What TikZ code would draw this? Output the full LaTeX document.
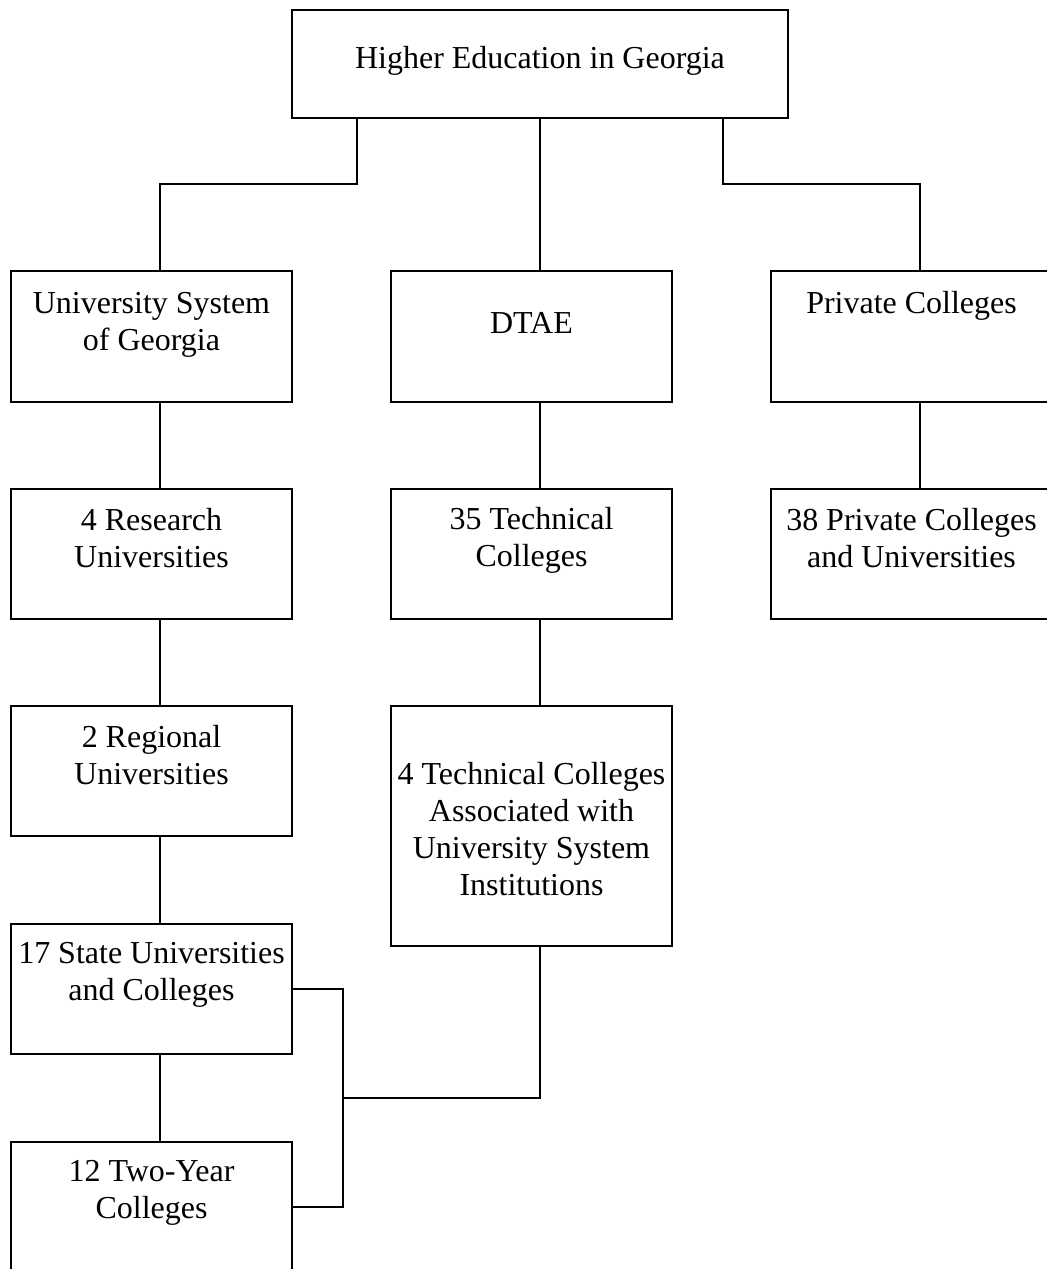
\documentclass[tikz,border=0pt]{standalone}
\usepackage{fontspec}
\setmainfont{Liberation Serif}
\usetikzlibrary{calc,positioning}

\tikzset{
  unit/.style={draw,line width=1.1pt,minimum width=5.62cm,minimum height=2.6cm,inner sep=0pt},
  txt/.style={align=center,inner sep=0pt,font=\fontsize{18.2}{21}\selectfont},
  link/.style={line width=1.1pt},
}

\begin{document}
\begin{tikzpicture}[x=1cm,y=1cm]
  \useasboundingbox (0,0) rectangle (20.92,25.38);
  \fill[white] (0,0) rectangle (20.92,25.38);

  % root
  \node[unit,minimum width=9.92cm,minimum height=2.16cm] (top) at (10.8,24.1) {};
  \node[txt] (top-t) at ([yshift=0.6mm]top) {Higher Education in Georgia};

  % first row
  \node[unit,minimum height=2.62cm] (usg) at (3.03,18.65) {};
  \node[txt] (usg-t) at ([yshift=2.4mm]usg) {University System\\of Georgia};
  \node[unit,minimum height=2.62cm] (dtae) at (10.63,18.65) {};
  \node[txt] (dtae-t) at ([yshift=2.7mm]dtae) {DTAE};
  \node[unit,minimum height=2.62cm] (priv) at (18.23,18.65) {};
  \node[txt] (priv-t) at ([yshift=6.1mm]priv) {Private Colleges};

  % second row
  \node[unit] (res) at (3.03,14.3) {};
  \node[txt] (res-t) at ([yshift=3.1mm]res) {4 Research\\Universities};
  \node[unit] (tc35) at (10.63,14.3) {};
  \node[txt] (tc35-t) at ([yshift=2.8mm]tc35) {35 Technical\\Colleges};
  \node[unit] (p38) at (18.23,14.3) {};
  \node[txt] (p38-t) at ([yshift=3.1mm]p38) {38 Private Colleges\\and Universities};

  % third row
  \node[unit] (reg) at (3.03,9.96) {};
  \node[txt] (reg-t) at ([yshift=3.1mm]reg) {2 Regional\\Universities};
  \node[unit,minimum height=4.8cm] (tech4) at (10.63,8.86) {};
  \node[txt] (tech4-t) at ([yshift=-0.6mm]tech4) {4 Technical Colleges\\Associated with\\University System\\Institutions};

  % lower rows
  \node[unit] (st17) at (3.03,5.6) {};
  \node[txt] (st17-t) at ([yshift=2.8mm]st17) {17 State Universities\\and Colleges};
  \node[unit] (ty12) at (3.03,1.24) {};
  \node[txt] (ty12-t) at ([yshift=2.8mm]ty12) {12 Two-Year\\Colleges};

  % connectors
  \draw[link] ([xshift=1.32cm]top.south west) -- ++(0,-1.3) -| ([xshift=1.7mm]usg.north);
  \draw[link] (top.south) -- ([xshift=1.7mm]dtae.north);
  \draw[link] ([xshift=-1.32cm]top.south east) -- ++(0,-1.3) -| ([xshift=1.7mm]priv.north);
  \foreach \a/\b in {usg/res,res/reg,reg/st17,st17/ty12,dtae/tc35,tc35/tech4,priv/p38}
    \draw[link] ([xshift=1.7mm]\a.south) -- ([xshift=1.7mm]\b.north);

  \coordinate (jn) at ($(st17.east)!0.5!(ty12.east)+(1.0,0)$);
  \draw[link] (st17.east) -- ++(1.0,0) |- (ty12.east);
  \draw[link] ([xshift=1.7mm]tech4.south) |- (jn);
\end{tikzpicture}
\end{document}
